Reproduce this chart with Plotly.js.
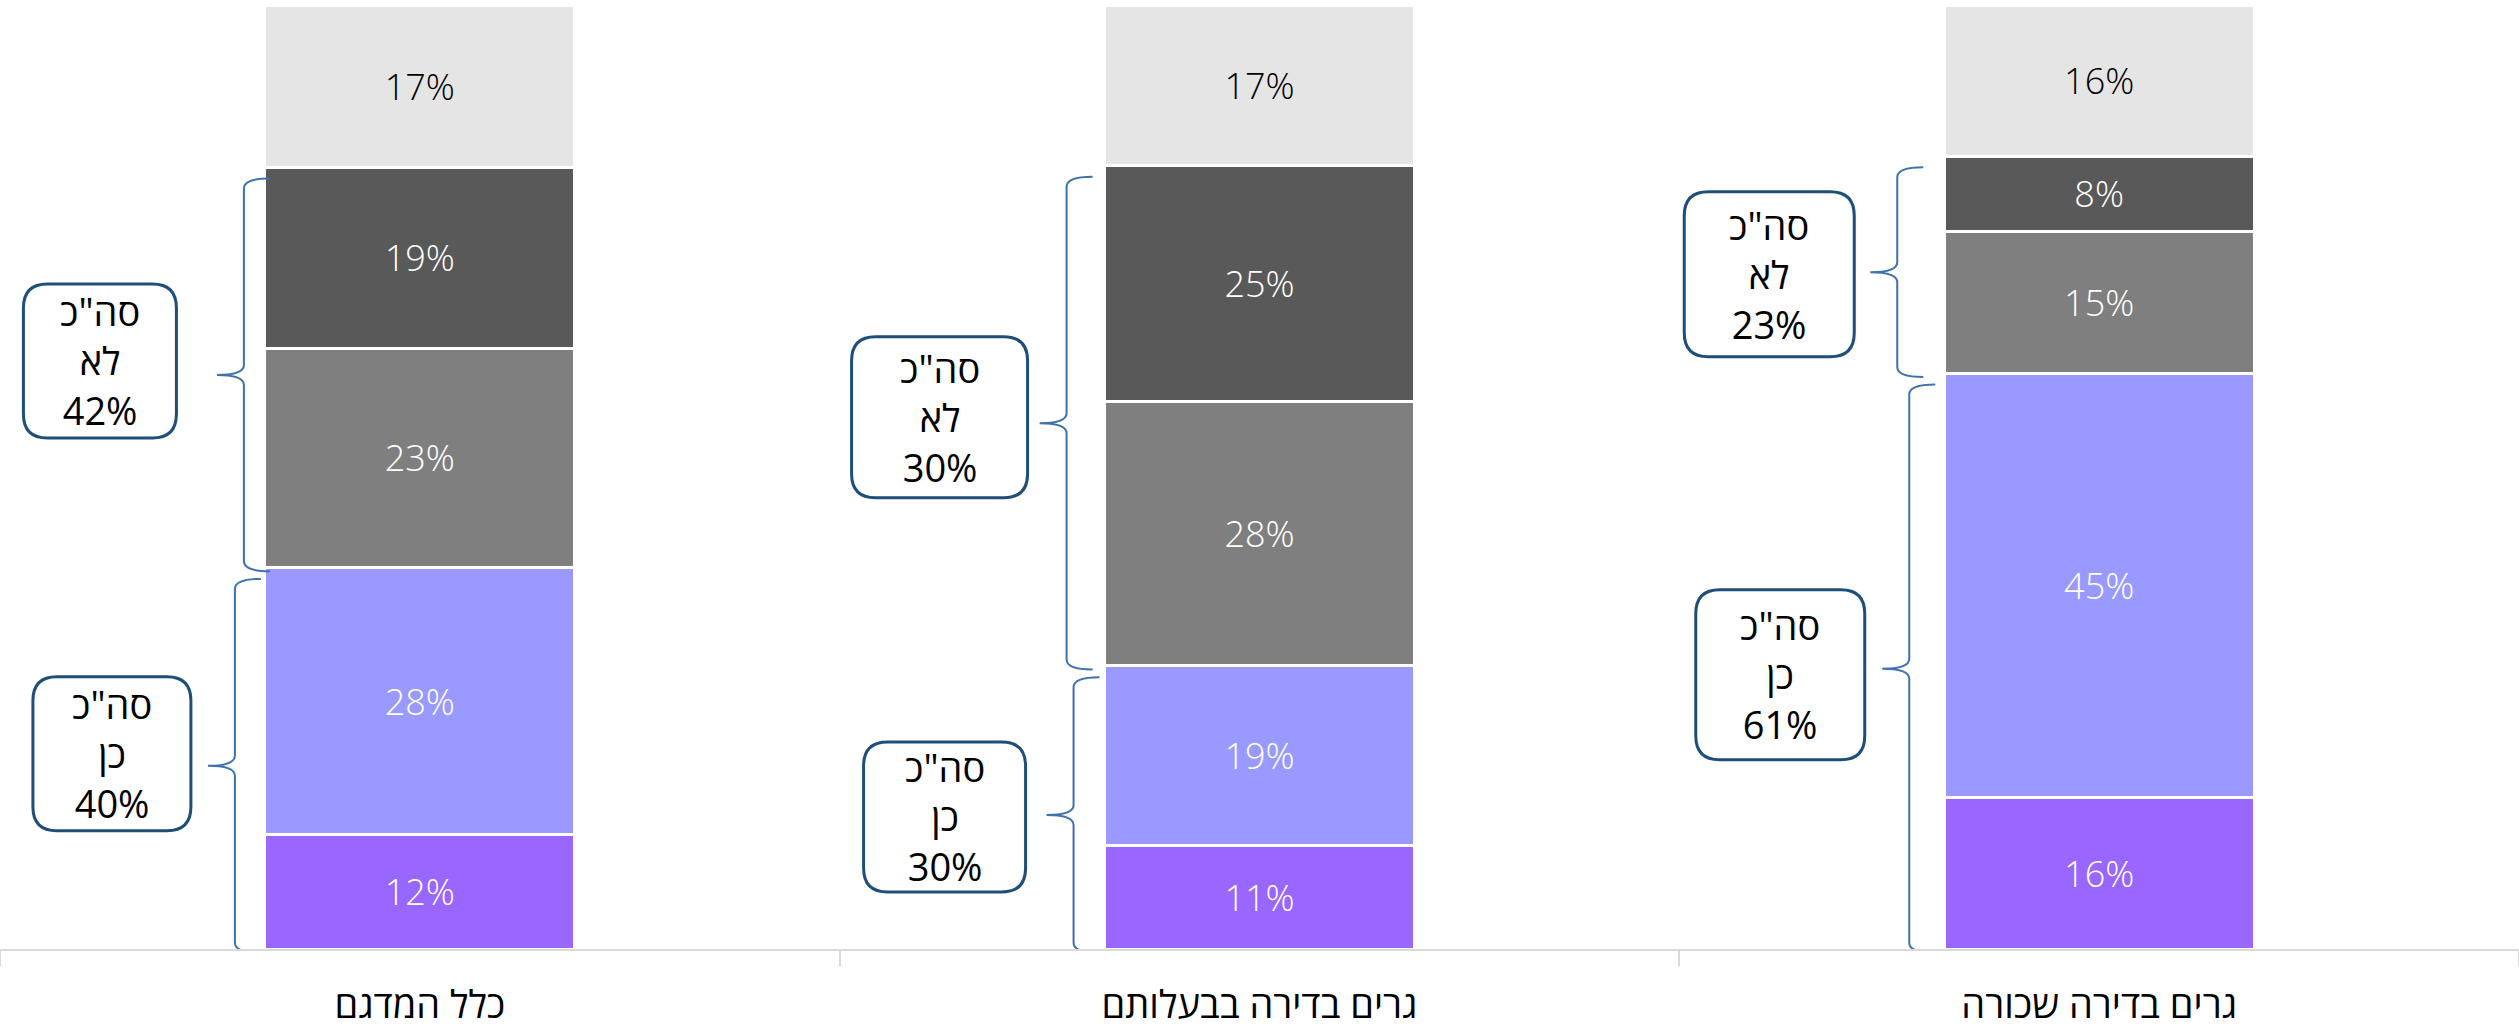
<!DOCTYPE html>
<html>
<head>
<meta charset="utf-8">
<script src="https://cdn.plot.ly/plotly-3.0.1.min.js"></script>
<style>
html, body { margin: 0; padding: 0; background: #fff; }
#chart { width: 2519px; height: 1028px; }
</style>
</head>
<body>
<div id="chart"></div>
<script>
// categories, left to right
const groups = ["כלל המדגם", "גרים בדירה בבעלותם", "גרים בדירה שכורה"];

// stacked segments, bottom to top (percent)
const yesStrong = [12, 11, 16];
const yesSome = [28, 19, 45];
const noSome = [23, 28, 15];
const noStrong = [19, 25, 8];
const dontKnow = [17, 17, 16];

// totals written in the call-out boxes
const yesTotal = [40, 30, 61];
const noTotal = [42, 30, 23];
const totalWord = 'סה"כ';
const yesWord = "כן";
const noWord = "לא";

// ---- layout constants (pixels) ----
const W = 2519, H = 1028;
const M = { l: 0, r: 0, t: 5, b: 79 };
const plotW = W - M.l - M.r, plotH = H - M.t - M.b;
const pxX = plotW / 3;      // pixels per category unit
const pxY = plotH / 100;    // pixels per percent
const barWidth = 0.369;
const half = barWidth / 2;

// brace line offset from bar left edge, [yes, no] per bar
const braceLine = [[-30, -21], [-31, -38], [-35, -47]];
// call-out box centre offset [dx from bar left edge, dy from brace middle], [yes, no] per bar
const boxOffset = [[[-153, -12], [-165, -14]], [[-160, 2], [-165, -6]], [[-164, 6], [-175, 2]]];
const boxSize = [[[158, 154], [153, 154]], [[162, 150], [176, 161]], [[169, 170], [170, 165]]];
const boxR = 24;

const series = [
  { y: yesStrong, color: "#9966ff", font: "#ffffff" },
  { y: yesSome, color: "#9999ff", font: "#ffffff" },
  { y: noSome, color: "#7f7f7f", font: "#ffffff" },
  { y: noStrong, color: "#595959", font: "#ffffff" },
  { y: dontKnow, color: "#e5e5e5", font: "#000000" }
];

const traces = series.map(s => ({
  type: "bar",
  x: groups,
  y: s.y,
  width: barWidth,
  text: s.y.map(v => v + "%"),
  textposition: "inside",
  insidetextanchor: "middle",
  textangle: 0,
  constraintext: "none",
  textfont: { family: "Open Sans", size: 36, weight: 300, color: s.font },
  marker: { color: s.color, line: { color: "#ffffff", width: 3 } },
  hoverinfo: "skip",
  showlegend: false
}));

function bracePath(i, lineOff, yBot, yTop) {
  const left = i - half;
  const lx = left + lineOff / pxX;
  const tx = left + (lineOff + 26) / pxX;
  const mx = left + (lineOff - 27) / pxX;
  const r = 10 / pxY;
  const ym = (yBot + yTop) / 2;
  return `M${tx},${yTop} Q${lx},${yTop} ${lx},${yTop - r} L${lx},${ym + r} ` +
    `Q${lx},${ym} ${mx},${ym} Q${lx},${ym} ${lx},${ym - r} L${lx},${yBot + r} ` +
    `Q${lx},${yBot} ${tx},${yBot}`;
}

function boxPath(cx, cy, w, h) {
  const hx = w / 2 / pxX, hy = h / 2 / pxY;
  const rx = boxR / pxX, ry = boxR / pxY;
  const x0 = cx - hx, x1 = cx + hx, y0 = cy - hy, y1 = cy + hy;
  return `M${x0 + rx},${y1} L${x1 - rx},${y1} Q${x1},${y1} ${x1},${y1 - ry} ` +
    `L${x1},${y0 + ry} Q${x1},${y0} ${x1 - rx},${y0} L${x0 + rx},${y0} ` +
    `Q${x0},${y0} ${x0},${y0 + ry} L${x0},${y1 - ry} Q${x0},${y1} ${x0 + rx},${y1} Z`;
}

const shapes = [];
const annotations = [];
groups.forEach((g, i) => {
  const total = series.reduce((a, s) => a + s.y[i], 0);
  const yesTop = (yesStrong[i] + yesSome[i]) / total * 100;
  const noTop = yesTop + (noSome[i] + noStrong[i]) / total * 100;
  const spans = [
    { bot: -0.4, top: yesTop - 1.2, word: yesWord, value: yesTotal[i] },
    { bot: yesTop - 0.4, top: noTop - 1.2, word: noWord, value: noTotal[i] }
  ];
  spans.forEach((sp, k) => {
    shapes.push({
      type: "path", xref: "x2", yref: "y",
      path: bracePath(i, braceLine[i][k], sp.bot, sp.top),
      line: { color: "#3f72ad", width: 2 }
    });
    const cx = i - half + boxOffset[i][k][0] / pxX;
    const cy = (sp.bot + sp.top) / 2 - boxOffset[i][k][1] / pxY;
    shapes.push({
      type: "path", xref: "x2", yref: "y",
      path: boxPath(cx, cy, boxSize[i][k][0], boxSize[i][k][1]),
      fillcolor: "#ffffff",
      line: { color: "#1f4e79", width: 3 }
    });
    annotations.push({
      xref: "x2", yref: "y", x: cx, y: cy,
      text: `${totalWord}<br>${sp.word}<br>${sp.value}%`,
      showarrow: false, align: "center",
      font: { family: "Open Sans", size: 38, weight: 400, color: "#000000" }
    });
  });
});

const layout = {
  width: W, height: H,
  margin: M,
  paper_bgcolor: "#ffffff",
  plot_bgcolor: "#ffffff",
  barmode: "stack",
  barnorm: "percent",
  xaxis: {
    type: "category",
    range: [-0.5, 2.5],
    showline: true, linecolor: "#d9d9d9", linewidth: 2,
    ticks: "outside", tickson: "boundaries", ticklen: 15,
    tickcolor: "#d9d9d9", tickwidth: 2,
    ticklabelstandoff: 21,
    showgrid: false, zeroline: false,
    tickfont: { family: "Open Sans", size: 38, weight: 400, color: "#000000" }
  },
  xaxis2: { overlaying: "x", range: [-0.5, 2.5], visible: false },
  yaxis: { range: [0, 100], visible: false },
  shapes: shapes,
  annotations: annotations
};

Plotly.newPlot("chart", traces, layout, { staticPlot: true });
</script>
</body>
</html>
